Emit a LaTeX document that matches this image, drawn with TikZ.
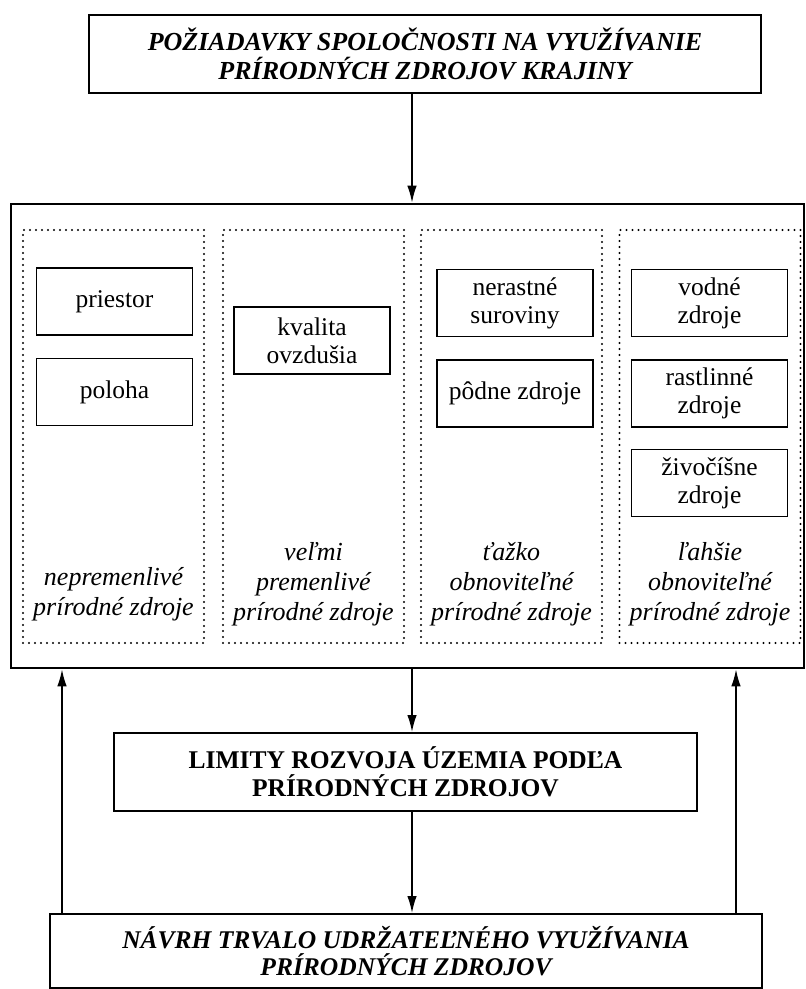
\documentclass[tikz,border=0pt]{standalone}
\usepackage{fontspec}
\setmainfont{Liberation Serif}
\usetikzlibrary{arrows.meta}
\tikzset{
  solidbox/.style={draw, line width=2bp, inner sep=0pt, align=center},
  innerbox/.style={draw, line width=1.6bp, inner sep=0pt, align=center,
    minimum width=156bp, minimum height=67bp,
    font=\fontsize{25.5bp}{28bp}\selectfont},
  dotcol/.style={draw, line width=2.2bp, line cap=round, dash pattern=on 0bp off 6bp,
    inner sep=0pt, minimum width=181bp, minimum height=413bp},
  collabel/.style={align=center, inner sep=0pt,
    font=\fontsize{26bp}{30bp}\selectfont\itshape},
  arr/.style={line width=1.6bp, -{Latex[length=17bp, width=9.5bp]}},
  ttl/.style={font=\fontsize{26bp}{29bp}\selectfont\bfseries\itshape},
  limt/.style={font=\fontsize{25.5bp}{28bp}\selectfont\bfseries}
}
\begin{document}
\begin{tikzpicture}[x=1bp, y=-1bp]
\useasboundingbox (0,0) rectangle (806,989);

% top box
\node[solidbox, ttl, minimum width=672bp, minimum height=78bp] (top) at (425,54)
  {POŽIADAVKY SPOLOČNOSTI NA VYUŽÍVANIE\\PRÍRODNÝCH ZDROJOV KRAJINY};

% main box
\node[draw, line width=2.6bp, inner sep=0pt, minimum width=793bp, minimum height=464bp] (main) at (407.5,436) {};

% dotted columns
\node[dotcol] (c1) at (113.5,436.5) {};
\node[dotcol] (c2) at (313.5,436.5) {};
\node[dotcol] (c3) at (511.5,436.5) {};
\node[dotcol] (c4) at (710,436.5) {};

% inner boxes
\node[innerbox] (priestor) at (114.5,301.5) {priestor};
\node[innerbox] (poloha) at (114.5,392) {poloha};
\node[innerbox] (kvalita) at (312,340.5) {kvalita\\ovzdušia};
\node[innerbox] (nerast) at (515,303) {nerastné\\suroviny};
\node[innerbox] (podne) at (515,393.5) {pôdne zdroje};
\node[innerbox] (vodne) at (709.5,303) {vodné\\zdroje};
\node[innerbox] (rastl) at (709.5,393.5) {rastlinné\\zdroje};
\node[innerbox] (zivoc) at (709.5,483) {živočíšne\\zdroje};

% column labels
\node[collabel] (l1) at (113.5,594) {nepremenlivé\\prírodné zdroje};
\node[collabel] (l2) at (313.5,584) {veľmi\\premenlivé\\prírodné zdroje};
\node[collabel] (l3) at (511.5,584) {ťažko\\obnoviteľné\\prírodné zdroje};
\node[collabel] (l4) at (710,584) {ľahšie\\obnoviteľné\\prírodné zdroje};

% limity box
\node[solidbox, limt, minimum width=583bp, minimum height=78bp] (lim) at (405.5,772)
  {LIMITY ROZVOJA ÚZEMIA PODĽA\\PRÍRODNÝCH ZDROJOV};

% bottom box
\node[solidbox, ttl, font=\fontsize{25.5bp}{27bp}\selectfont\bfseries\itshape,
  minimum width=712bp, minimum height=74bp] (bot) at (406,951)
  {NÁVRH TRVALO UDRŽATEĽNÉHO VYUŽÍVANIA\\PRÍRODNÝCH ZDROJOV};

% connectors
\draw[arr] (412,0 |- top.south) -- (412,0 |- main.north);
\draw[arr] (main.south -| 412,0) -- (lim.north -| 412,0);
\draw[arr] (lim.south -| 412,0) -- (bot.north -| 412,0);
\draw[arr] (62,0 |- bot.north) -- (62,0 |- main.south);
\draw[arr] (736,0 |- bot.north) -- (736,0 |- main.south);
\end{tikzpicture}
\end{document}
